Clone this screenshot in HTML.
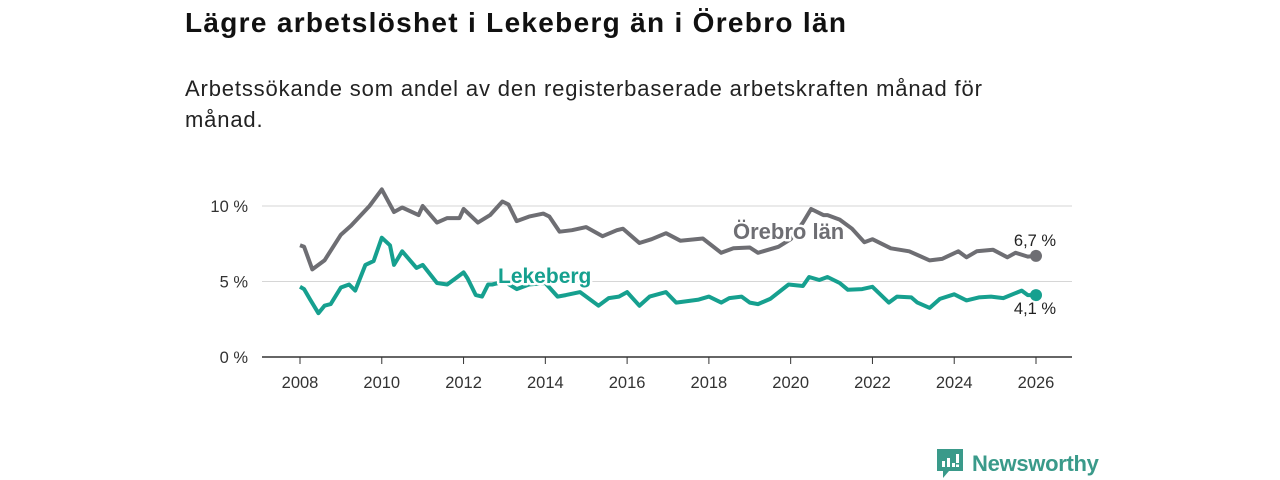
<!DOCTYPE html>
<html><head><meta charset="utf-8"><style>
body{margin:0;width:1280px;height:480px;background:#fff;font-family:"Liberation Sans","DejaVu Sans",sans-serif;overflow:hidden;position:relative}
.t{position:absolute;left:185px;top:7px;font-size:28px;letter-spacing:1.3px;font-weight:bold;color:#111;white-space:nowrap}
.s{position:absolute;left:185px;top:73px;font-size:22px;letter-spacing:0.85px;line-height:31px;color:#222;width:850px}
svg{position:absolute;left:0;top:0}
</style></head><body>
<div class="t">Lägre arbetslöshet i Lekeberg än i Örebro län</div>
<div class="s">Arbetssökande som andel av den registerbaserade arbetskraften månad för<br>månad.</div>
<svg id="c" width="1280" height="480"></svg>
<script>
const orebroYears=[2008,2008.1,2008.3,2008.6,2009,2009.25,2009.7,2010,2010.3,2010.5,2010.9,2011,2011.35,2011.6,2011.9,2012,2012.35,2012.65,2012.95,2013.1,2013.3,2013.6,2013.95,2014.1,2014.35,2014.65,2015,2015.4,2015.75,2015.9,2016.3,2016.6,2016.95,2017.3,2017.85,2018.3,2018.6,2019,2019.2,2019.7,2020,2020.3,2020.5,2020.8,2020.9,2021.2,2021.5,2021.8,2022,2022.45,2022.9,2023.4,2023.7,2024.1,2024.3,2024.55,2024.95,2025.3,2025.5,2025.8,2026];
const orebroValues=[7.4,7.3,5.8,6.4,8.1,8.7,10.0,11.1,9.6,9.9,9.4,10.0,8.9,9.2,9.2,9.8,8.9,9.4,10.3,10.1,9.0,9.3,9.5,9.3,8.3,8.4,8.6,8.0,8.4,8.5,7.55,7.8,8.2,7.7,7.85,6.9,7.2,7.25,6.9,7.3,7.8,8.9,9.8,9.4,9.4,9.1,8.5,7.6,7.8,7.2,7.0,6.4,6.5,7.0,6.6,7.0,7.1,6.6,6.9,6.65,6.7];
const lekYears=[2008,2008.1,2008.25,2008.45,2008.6,2008.75,2009,2009.2,2009.35,2009.6,2009.8,2010,2010.2,2010.3,2010.5,2010.85,2011,2011.35,2011.6,2011.8,2012,2012.1,2012.3,2012.45,2012.6,2012.7,2013,2013.3,2013.6,2014,2014.3,2014.5,2014.85,2015.3,2015.55,2015.8,2016,2016.3,2016.55,2016.95,2017.2,2017.75,2018,2018.3,2018.5,2018.8,2019,2019.2,2019.5,2019.95,2020.3,2020.45,2020.7,2020.9,2021.2,2021.4,2021.75,2022,2022.4,2022.6,2022.95,2023.1,2023.4,2023.65,2024,2024.3,2024.6,2024.9,2025.2,2025.65,2025.8,2026];
const lekValues=[4.65,4.5,3.8,2.9,3.4,3.5,4.6,4.8,4.4,6.1,6.35,7.9,7.4,6.1,7.0,5.9,6.1,4.9,4.8,5.2,5.6,5.2,4.1,4.0,4.8,4.8,5.0,4.5,4.8,4.9,4.0,4.1,4.3,3.4,3.9,4.0,4.3,3.4,4.0,4.3,3.6,3.8,4.0,3.6,3.9,4.0,3.6,3.5,3.85,4.8,4.7,5.3,5.1,5.3,4.9,4.45,4.5,4.65,3.6,4.0,3.95,3.6,3.25,3.85,4.15,3.75,3.95,4.0,3.9,4.4,4.1,4.1];
const yTicks=[0,5,10];
const xTicks=[2008,2010,2012,2014,2016,2018,2020,2022,2024,2026];
const X=y=>300+(y-2008)*(736/18);
const Y=v=>357-v*15.1;
const svg=document.getElementById('c');const NS='http://www.w3.org/2000/svg';
function mk(t,a,txt){const e=document.createElementNS(NS,t);for(const k in a)e.setAttribute(k,a[k]);if(txt!==undefined)e.textContent=txt;svg.appendChild(e);return e;}
yTicks.forEach(v=>{
 const l=mk('line',{x1:262,x2:1072,y1:Y(v),y2:Y(v),stroke:v===0?'#333':'#d6d6d6','stroke-width':v===0?1.5:1});
 
 
 const t=mk('text',{x:248,y:Y(v)+6,'text-anchor':'end','font-size':16.5,fill:'#333'},v+' %');
 
 
});
xTicks.forEach(y=>{
 const l=mk('line',{x1:X(y),x2:X(y),y1:357,y2:364,stroke:'#333','stroke-width':1});
 
 
 const t=mk('text',{x:X(y),y:388,'text-anchor':'middle','font-size':16.5,fill:'#333'},y);
 
 
});
function line(xs,vs,col,name){
 const d=xs.map((x,i)=>(i?'L':'M')+X(x).toFixed(1)+','+Y(vs[i]).toFixed(1)).join('');
 const p=mk('path',{d:d,fill:'none',stroke:col,'stroke-width':4,'stroke-linejoin':'round'});
 
 
 const c=mk('circle',{cx:X(xs[xs.length-1]),cy:Y(vs[vs.length-1]),r:6,fill:col});
 
 
}
line(orebroYears,orebroValues,'#6e6e73','orebro');
line(lekYears,lekValues,'#16a08f','lekeberg');
function lab(x,y,txt,col,name,anchor,bold,fs){
 const a={x:x,y:y,'font-size':fs,'font-weight':bold?'bold':'normal',fill:col,'text-anchor':anchor||'start',stroke:'#fff','stroke-width':bold?5:4,'paint-order':'stroke','stroke-linejoin':'round'};
 const t=mk('text',a,txt);
 
 
}
lab(733,239,'Örebro län','#6e6e73','orebro-series-label','start',true,22);
lab(498,283,'Lekeberg','#16a08f','lekeberg-series-label','start',true,21);
lab(1035,246,'6,7 %','#222','orebro-end-value','middle',false,16.5);
lab(1035,314,'4,1 %','#222','lekeberg-end-value','middle',false,16.5);
</script>
<div style="position:absolute;left:937px;top:449px;display:flex;align-items:center">
 <svg width="26" height="30" viewBox="0 0 26 30" style="position:static"><path d="M0 0H26V22H12L6 29V22H0Z" fill="#3a9a8a"/><rect x="5" y="12" width="3" height="6" fill="#fff"/><rect x="10" y="9" width="3" height="9" fill="#fff"/><rect x="15" y="14" width="3" height="4" fill="#fff"/><rect x="19" y="5" width="3" height="9" fill="#fff"/><rect x="19" y="15.5" width="3" height="2.5" fill="#fff"/></svg>
 <span style="margin-left:9px;font-size:22px;color:#3a9a8a;font-weight:bold;letter-spacing:-0.3px">Newsworthy</span>
</div>
</body></html>
